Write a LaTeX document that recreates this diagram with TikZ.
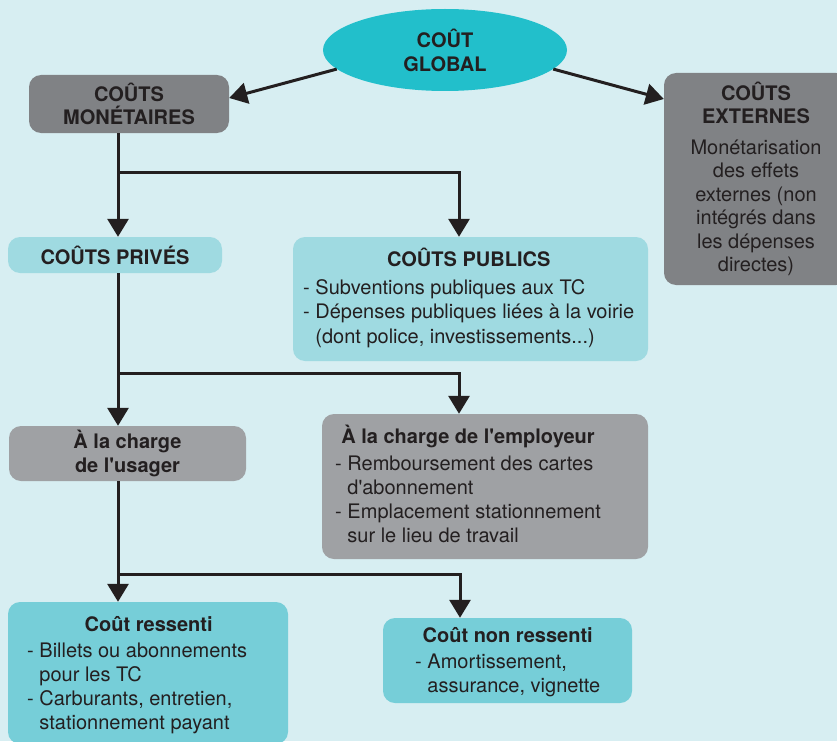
\documentclass[tikz,border=0pt]{standalone}
\usepackage{fontspec}
\setmainfont{TeX Gyre Heros}
\usetikzlibrary{arrows.meta,shapes.geometric}
\definecolor{bg}{RGB}{215,238,242}
\definecolor{ink}{RGB}{35,31,32}
\definecolor{glob}{RGB}{34,191,203}
\definecolor{gdark}{RGB}{128,130,133}
\definecolor{gmid}{RGB}{159,161,164}
\definecolor{tlight}{RGB}{159,218,225}
\definecolor{tmid}{RGB}{118,206,216}
\newcommand\apos{\textquotesingle}
\tikzset{
  box/.style={rounded corners=12pt, inner sep=0pt, text=ink, align=center,
              font=\fontsize{20}{23.5}\selectfont\bfseries},
  txt/.style={inner sep=0pt, text=ink, anchor=base west, font=\fontsize{20}{24.2}\selectfont},
  arr/.style={draw=ink, line width=3pt, line join=miter, -{Triangle[width=21pt,length=18pt]}}
}
\begin{document}
\begin{tikzpicture}[x=1pt,y=-1pt]
\useasboundingbox[fill=bg] (0,0) rectangle (837,741);

% top
\node[ellipse, fill=glob, minimum width=244pt, minimum height=82pt, inner sep=0pt,
      text=ink, align=center, font=\fontsize{20}{24}\selectfont\bfseries] (glob) at (445,50) {COÛT\\GLOBAL};
\node[box, fill=gdark, minimum width=200pt, minimum height=58pt] (mon) at (129,104) {COÛTS\\MONÉTAIRES};
\node[box, fill=gdark, minimum width=184pt, minimum height=212pt] (ext) at (756,179)
  {COÛTS\\EXTERNES\\[7pt]{\mdseries Monétarisation}\\{\mdseries des effets}\\{\mdseries externes (non}\\{\mdseries intégrés dans}\\{\mdseries les dépenses}\\{\mdseries directes)}};

% level 2
\node[box, fill=tlight, minimum width=214pt, minimum height=36pt] (priv) at (115,255) {COÛTS PRIVÉS};
\node[box, fill=tlight, minimum width=355pt, minimum height=124pt] (pub) at (470.5,299) {};
\node[txt] (pubT) at (303,266) {\begin{tabular}[t]{@{}l@{}}
  \multicolumn{1}{@{}c@{}}{\bfseries COÛTS PUBLICS}\\[4.5pt]
  - Subventions publiques aux TC\\
  - Dépenses publiques liées à la voirie\\
  \hphantom{- }(dont police, investissements...)
\end{tabular}};

% level 3
\node[box, fill=gmid, minimum width=237pt, minimum height=55pt] (usa) at (127.5,453.5) {À la charge\\de l\apos usager};
\node[box, fill=gmid, minimum width=326pt, minimum height=145pt] (emp) at (485,486.5) {};
\node[txt] (empT) at (335,443) {\begin{tabular}[t]{@{}l@{}}
  \multicolumn{1}{@{}c@{}}{\bfseries À la charge de l\apos employeur}\\[3pt]
  - Remboursement des cartes\\
  \hphantom{- }d\apos abonnement\\
  - Emplacement stationnement\\
  \hphantom{- }sur le lieu de travail
\end{tabular}};

% level 4
\node[box, fill=tmid, minimum width=280pt, minimum height=142pt] (res) at (148,673) {};
\node[txt] (resT) at (27,631) {\begin{tabular}[t]{@{}l@{}}
  \multicolumn{1}{@{}c@{}}{\hspace*{23pt}\bfseries Coût ressenti}\\[2pt]
  - Billets ou abonnements\\
  \hphantom{- }pour les TC\\
  - Carburants, entretien,\\
  \hphantom{- }stationnement payant
\end{tabular}};
\node[box, fill=tmid, minimum width=249pt, minimum height=85pt] (non) at (507.5,660.5) {};
\node[txt] (nonT) at (415,642) {\begin{tabular}[t]{@{}l@{}}
  \multicolumn{1}{@{}c@{}}{\bfseries Coût non ressenti}\\[2pt]
  - Amortissement,\\
  \hphantom{- }assurance, vignette
\end{tabular}};

% connectors
\coordinate (t) at (118,0);
\coordinate (b1) at (459,172);
\coordinate (b2) at (459,373);
\coordinate (b3) at (460,574);
\draw[arr] (glob.190) -- ([yshift=6pt]mon.east);
\draw[arr] (glob.-10) -- ([yshift=80pt]ext.west);
\draw[arr] (mon.south -| t) -- (priv.north -| t);
\draw[arr] (b1 -| t) -- (b1) -- (pub.north -| b1);
\draw[arr] (priv.south -| t) -- (usa.north -| t);
\draw[arr] (b2 -| t) -- (b2) -- (emp.north -| b2);
\draw[arr] (usa.south -| t) -- (res.north -| t);
\draw[arr] (b3 -| t) -- (b3) -- (non.north -| b3);
\end{tikzpicture}
\end{document}
